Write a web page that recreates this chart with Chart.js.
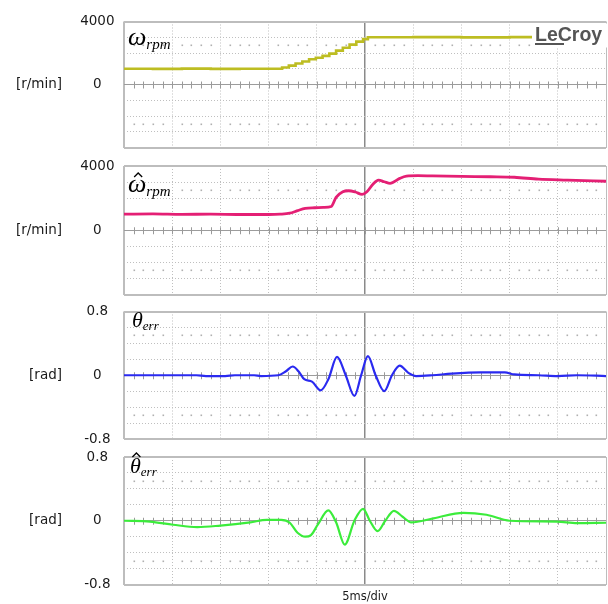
<!DOCTYPE html>
<html><head><meta charset="utf-8">
<script src="https://cdn.jsdelivr.net/npm/chart.js@4/dist/chart.umd.min.js"></script>
<style>
html,body{margin:0;padding:0;background:#fff;}
#wrap{position:relative;width:608px;height:604px;overflow:hidden;background:#fff;}
canvas{position:absolute;left:0;}
</style></head><body>
<div id="wrap">
<canvas id="c1" width="608" height="150" style="top:8px"></canvas>
<canvas id="c2" width="608" height="152" style="top:153px"></canvas>
<canvas id="c3" width="608" height="152" style="top:298px"></canvas>
<canvas id="c4" width="608" height="160" style="top:444px"></canvas>
</div>
<script>
// ---------- data ----------
const timeTicksMs = [0, 5, 10, 15, 20, 25, 30, 35, 40, 45, 50];
const rpmTicks = [-4000, -3000, -2000, -1000, 0, 1000, 2000, 3000, 4000];
const radTicks = [-0.8, -0.6, -0.4, -0.2, 0, 0.2, 0.4, 0.6, 0.8];
const rpmTickLabels = ['4000', '0'];
const radTickLabels = ['0.8', '0', '-0.8'];

// measured speed (staircase)
const omegaT   = [0, 3, 6, 9, 12, 15, 16.4, 17.1, 17.8, 18.5, 19.2, 19.9, 20.6, 21.3, 22.0, 22.7, 23.4, 24.1, 24.8, 25.3, 30, 35, 40, 45, 50];
const omegaRpm = [1000, 990, 1010, 990, 1000, 1000, 1080, 1200, 1330, 1460, 1600, 1700, 1820, 1960, 2150, 2330, 2530, 2720, 2880, 3000, 3010, 2990, 3010, 2990, 3000];

// estimated speed
const omegaHatT   = [0, 3, 6, 9, 12, 15, 16.2, 17.2, 18.0, 18.8, 19.8, 20.7, 21.5, 22.0, 22.7, 23.3, 24.0, 24.7, 25.2, 25.8, 26.4, 27.0, 27.6, 28.6, 29.3, 30.5, 32, 35, 38, 40.5, 43, 46, 50];
const omegaHatRpm = [1000, 1020, 990, 1000, 980, 980, 1000, 1060, 1220, 1360, 1400, 1420, 1480, 2050, 2400, 2460, 2380, 2230, 2400, 2850, 3120, 3020, 2920, 3230, 3370, 3400, 3380, 3350, 3330, 3300, 3180, 3120, 3050];

// position error
const thetaErrT   = [0, 4, 7.5, 8.5, 10.5, 11.5, 13.5, 14.2, 16.0, 16.8, 17.5, 18.1, 18.7, 19.5, 20.4, 21.2, 22.1, 23.0, 23.9, 24.6, 25.3, 26.1, 27.0, 27.8, 28.6, 29.5, 30.3, 32, 34, 37, 39.5, 40.5, 43, 45, 47, 50];
const thetaErrRad = [0, 0, 0, -0.01, -0.01, 0, 0, -0.01, 0, 0.05, 0.11, 0.05, -0.05, -0.08, -0.19, -0.05, 0.23, 0.0, -0.26, 0.0, 0.24, 0.0, -0.20, 0.0, 0.12, 0.03, -0.01, 0.0, 0.02, 0.035, 0.035, 0.01, 0.0, -0.01, 0.0, -0.01];

// estimated position error
const thetaHatErrT   = [0, 2.7, 5.1, 7.6, 10.0, 13.1, 14.8, 16.3, 17.2, 18.0, 18.8, 19.4, 20.1, 21.2, 22.0, 22.9, 23.9, 24.8, 25.5, 26.3, 27.1, 28.0, 28.9, 29.8, 32.1, 35.2, 37.6, 40.0, 44.9, 47.0, 50];
const thetaHatErrRad = [0, -0.01, -0.05, -0.08, -0.06, -0.02, 0.01, 0.01, -0.025, -0.15, -0.20, -0.18, -0.05, 0.13, -0.02, -0.30, 0.0, 0.15, 0.0, -0.13, 0.0, 0.125, 0.05, -0.02, 0.03, 0.10, 0.075, 0.0, -0.01, -0.03, -0.025];

// ---------- helpers ----------
function pts(ts, vs) { return ts.map((t, i) => ({x: t, y: vs[i]})); }

function gridStyle(n, centerColor, centerWidth, lastWidth) {
  return {
    color: (c) => (c.index === 0 || c.index === n - 1) ? '#bdbdbd' : (c.index === (n - 1) / 2 ? centerColor : '#bfbfbf'),
    lineWidth: (c) => c.index === 0 ? 2 : (c.index === n - 1 ? lastWidth : (c.index === (n - 1) / 2 ? centerWidth : 1)),
    dash: (c) => (c.index === 0 || c.index === n - 1 || c.index === (n - 1) / 2) ? [] : [1, 2]
  };
}

function makePanel(id, o) {
  const xg = gridStyle(timeTicksMs.length, '#8a8a8a', 1.5, 1);
  const yg = gridStyle(o.yTicks.length, '#9c9c9c', 1, 2);
  const scopePlugin = {
    id: 'scope' + id,
    beforeDatasetsDraw(chart) {
      const ctx = chart.ctx, xs = chart.scales.x, ys = chart.scales.y;
      const y0 = ys.getPixelForValue(0);
      const top = o.yTicks[o.yTicks.length - 1];
      const rowVals = [top * 0.625, -top * 0.625];
      ctx.save();
      for (let t = 1; t < 50; t++) {
        const x = xs.getPixelForValue(t);
        ctx.strokeStyle = '#9a9a9a';
        ctx.lineWidth = 1;
        ctx.beginPath();
        ctx.moveTo(Math.round(x) + 0.5, y0 - 3);
        ctx.lineTo(Math.round(x) + 0.5, y0 + 4);
        ctx.stroke();
        if (t % 5 !== 0) {
          ctx.fillStyle = '#b0b0b0';
          rowVals.forEach(v => {
            const y = ys.getPixelForValue(v);
            ctx.fillRect(Math.round(x) - 0.5, Math.round(y) - 0.5, 1.6, 1.6);
          });
        }
      }
      ctx.restore();
    },
    afterDraw(chart) {
      const ctx = chart.ctx, ys = chart.scales.y, area = chart.chartArea;
      const y0 = ys.getPixelForValue(0);
      ctx.save();
      // unit label
      ctx.fillStyle = '#1a1a1a';
      ctx.font = '13.5px "DejaVu Sans"';
      ctx.textAlign = 'right';
      ctx.textBaseline = 'middle';
      ctx.fillText(o.unit, 62, y0);
      // symbol label
      ctx.textAlign = 'left';
      ctx.textBaseline = 'alphabetic';
      ctx.fillStyle = '#000';
      ctx.font = 'italic ' + o.symSize + 'px "Liberation Serif"';
      const sx = area.left + o.symDx, sy = area.top + o.symDy;
      ctx.fillText(o.sym, sx, sy);
      const w = ctx.measureText(o.sym).width;
      if (o.hat) {
        const hx = sx + w / 2 + o.hatDx, hy = area.top + o.hatDy;
        ctx.strokeStyle = '#000';
        ctx.lineWidth = 1.3;
        ctx.beginPath();
        ctx.moveTo(hx - 4, hy + 4);
        ctx.lineTo(hx, hy);
        ctx.lineTo(hx + 4, hy + 4);
        ctx.stroke();
      }
      ctx.font = 'italic ' + o.subSize + 'px "Liberation Serif"';
      ctx.fillText(o.sub, sx + w + o.subDx, area.top + o.subDy);
      if (o.lecroy) {
        ctx.fillStyle = '#fff';
        ctx.fillRect(532, area.top + 2, 76, 24);
        ctx.fillStyle = '#555';
        ctx.font = 'bold 19.5px "Liberation Sans"';
        ctx.fillText('LeCroy', 535, area.top + 19);
        ctx.fillRect(535, area.top + 21.5, 29, 2);
      }
      ctx.restore();
    }
  };
  return new Chart(document.getElementById(id), {
    type: 'line',
    data: {
      datasets: [{
        data: pts(o.ts, o.vs),
        borderColor: o.color,
        borderWidth: o.width,
        pointRadius: 0,
        fill: false,
        stepped: o.stepped || false,
        tension: o.stepped ? 0 : 0.4,
        cubicInterpolationMode: o.stepped ? 'default' : 'monotone'
      }]
    },
    options: {
      responsive: false,
      animation: false,
      events: [],
      layout: {padding: {left: 0, right: 2, top: o.padTop, bottom: o.padBottom}},
      plugins: {legend: {display: false}, tooltip: {enabled: false}},
      scales: {
        x: {
          type: 'linear', min: 0, max: 50,
          afterBuildTicks: (s) => { s.ticks = timeTicksMs.map(v => ({value: v})); },
          afterFit: (s) => { s.height = o.xHeight; s.paddingLeft = 0; s.paddingRight = 0; s.paddingTop = 0; s.paddingBottom = 0; },
          ticks: {display: false, autoSkip: false},
          grid: {drawTicks: false, color: xg.color, lineWidth: xg.lineWidth},
          border: {display: false, dash: xg.dash},
          title: o.xTitle ? {display: true, text: o.xTitle, color: '#1a1a1a',
                             font: {family: 'DejaVu Sans', size: 11.5}, padding: {top: 0, bottom: 0}} : {display: false}
        },
        y: {
          type: 'linear', min: o.yTicks[0], max: o.yTicks[o.yTicks.length - 1],
          afterBuildTicks: (s) => { s.ticks = o.yTicks.map(v => ({value: v})); },
          afterFit: (s) => { s.width = 124; s.paddingTop = 0; s.paddingBottom = 0; s.paddingLeft = 0; s.paddingRight = 0; },
          ticks: {
            autoSkip: false, crossAlign: 'center', padding: o.tickPad,
            color: '#1a1a1a', font: {family: 'DejaVu Sans', size: 13.5},
            callback: (v) => o.yLabels.includes(String(v)) ? String(v) : ''
          },
          grid: {drawTicks: false, color: yg.color, lineWidth: yg.lineWidth},
          border: {display: false, dash: yg.dash}
        }
      }
    },
    plugins: [scopePlugin]
  });
}

makePanel('c1', {ts: omegaT, vs: omegaRpm, color: '#bdbd22', width: 2.6, stepped: true,
  yTicks: rpmTicks, yLabels: rpmTickLabels, tickPad: 9.5, unit: '[r/min]',
  padTop: 13.5, padBottom: 10.5, xHeight: 0,
  sym: 'ω', sub: 'rpm', symSize: 26, subSize: 15, symDx: 4, symDy: 23.5, subDx: 0, subDy: 27.5, lecroy: true});

makePanel('c2', {ts: omegaHatT, vs: omegaHatRpm, color: '#e41f74', width: 2.8,
  yTicks: rpmTicks, yLabels: rpmTickLabels, tickPad: 9.5, unit: '[r/min]',
  padTop: 13, padBottom: 10.5, xHeight: 0,
  sym: 'ω', sub: 'rpm', symSize: 26, subSize: 15, symDx: 4, symDy: 26, subDx: 0, subDy: 30, hat: true, hatDx: 1, hatDy: 7});

makePanel('c3', {ts: thetaErrT, vs: thetaErrRad, color: '#2a2af0', width: 2.2,
  yTicks: radTicks, yLabels: radTickLabels, tickPad: 13.5, unit: '[rad]',
  padTop: 13.5, padBottom: 11, xHeight: 0,
  sym: 'θ', sub: 'err', symSize: 22, subSize: 13, symDx: 8, symDy: 15.5, subDx: 0, subDy: 18.5});

makePanel('c4', {ts: thetaHatErrT, vs: thetaHatErrRad, color: '#3bec3b', width: 2.2,
  yTicks: radTicks, yLabels: radTickLabels, tickPad: 13.5, unit: '[rad]',
  padTop: 13, padBottom: 0, xHeight: 19.5, xTitle: '5ms/div',
  sym: 'θ', sub: 'err', symSize: 22, subSize: 13, symDx: 6, symDy: 16, subDx: 0, subDy: 18.5, hat: true, hatDx: 1, hatDy: -4});
</script>
</body></html>
